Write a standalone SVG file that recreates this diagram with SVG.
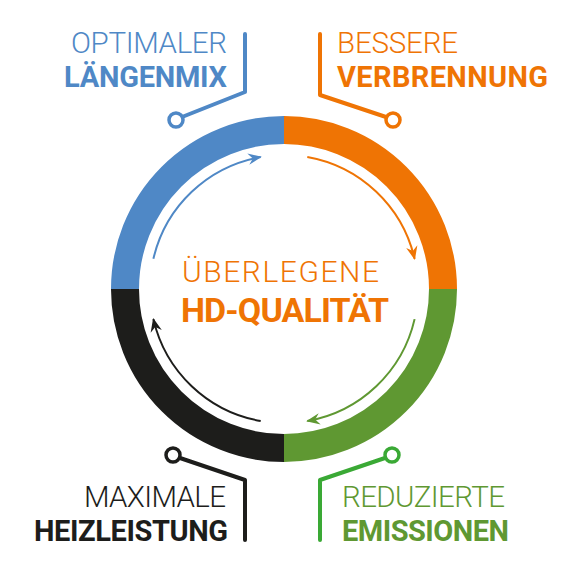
<svg xmlns="http://www.w3.org/2000/svg" width="576" height="576" viewBox="0 0 576 576">
<style>
.t{font-family:Roboto,"Liberation Sans",sans-serif;font-size:29px}
.l{font-weight:300;font-size:29.5px}
.b{font-weight:700}
.ring{fill:none;stroke-width:28}
.arr{fill:none;stroke-width:2}
.con{fill:none;stroke-width:4;stroke-linecap:round;stroke-linejoin:round}
.dot{fill:#fff;stroke-width:3.5}
</style>
<defs>
<marker id="mb" markerUnits="userSpaceOnUse" markerWidth="16" markerHeight="16" refX="0" refY="0" viewBox="-12 -6 14 12" orient="auto"><path d="M1,0 L-11,-5 L-7,0 L-11,5 Z" fill="#4f88c6"/></marker>
<marker id="mo" markerUnits="userSpaceOnUse" markerWidth="16" markerHeight="16" refX="0" refY="0" viewBox="-12 -6 14 12" orient="auto"><path d="M1,0 L-11,-5 L-7,0 L-11,5 Z" fill="#ef7404"/></marker>
<marker id="mg" markerUnits="userSpaceOnUse" markerWidth="16" markerHeight="16" refX="0" refY="0" viewBox="-12 -6 14 12" orient="auto"><path d="M1,0 L-11,-5 L-7,0 L-11,5 Z" fill="#5f9832"/></marker>
<marker id="mk" markerUnits="userSpaceOnUse" markerWidth="16" markerHeight="16" refX="0" refY="0" viewBox="-12 -6 14 12" orient="auto"><path d="M1,0 L-11,-5 L-7,0 L-11,5 Z" fill="#1d1d1b"/></marker>
</defs>
<g id="ring">
<path class="ring" stroke="#4f88c6" d="M125,289 A159,159 0 0 1 284,130"/>
<path class="ring" stroke="#ef7404" d="M284,130 A159,159 0 0 1 443,289"/>
<path class="ring" stroke="#5f9832" d="M443,289 A159,159 0 0 1 284,448"/>
<path class="ring" stroke="#1d1d1b" d="M284,448 A159,159 0 0 1 125,289"/>
</g>
<g id="connectors">
<path class="arr" stroke="#4f88c6" marker-end="url(#mb)" d="M153.4,258.8 A134,134 0 0 1 260.7,157"/>
<path class="arr" stroke="#ef7404" marker-end="url(#mo)" d="M307.3,157 A134,134 0 0 1 414.6,258.9"/>
<path class="arr" stroke="#5f9832" marker-end="url(#mg)" d="M414.6,319.1 A134,134 0 0 1 307.3,421"/>
<path class="arr" stroke="#1d1d1b" marker-end="url(#mk)" d="M260.7,421 A134,134 0 0 1 153.4,319.1"/>
<path class="con" stroke="#4f88c6" d="M245,34 V92 L182,117"/>
<path class="con" stroke="#ef7404" d="M320,34 V95 L386,117"/>
<path class="con" stroke="#1d1d1b" d="M245,540 V480 L180,458"/>
<path class="con" stroke="#3aa935" d="M320,540 V480 L385,458"/>
<circle class="dot" stroke="#4f88c6" cx="176" cy="120" r="7"/>
<circle class="dot" stroke="#ef7404" cx="393" cy="120" r="7"/>
<circle class="dot" stroke="#1d1d1b" cx="173" cy="455" r="7"/>
<circle class="dot" stroke="#3aa935" cx="392" cy="455" r="7"/>
</g>
<g id="optimal">
<text class="t l" x="71" y="53" textLength="156" lengthAdjust="spacing" fill="#4f88c6">OPTIMALER</text>
<text class="t b" x="64" y="87" textLength="163" lengthAdjust="spacing" fill="#4f88c6">LÄNGENMIX</text>
</g>
<g id="besser">
<text class="t l" x="337" y="53" textLength="121" lengthAdjust="spacing" fill="#ef7404">BESSERE</text>
<text class="t b" x="337" y="87" textLength="211" lengthAdjust="spacing" fill="#ef7404">VERBRENNUNG</text>
</g>
<g id="maximal">
<text class="t l" x="84" y="507" textLength="142" lengthAdjust="spacing" fill="#1d1d1b">MAXIMALE</text>
<text class="t b" x="34" y="541" textLength="194" lengthAdjust="spacing" fill="#1d1d1b">HEIZLEISTUNG</text>
</g>
<g id="reduziert">
<text class="t l" x="342" y="507" textLength="163" lengthAdjust="spacing" fill="#5f9832">REDUZIERTE</text>
<text class="t b" x="342" y="541" textLength="167" lengthAdjust="spacing" fill="#5f9832">EMISSIONEN</text>
</g>
<g id="center">
<text class="t l" x="182" y="282" textLength="197" lengthAdjust="spacing" fill="#ef7404" style="font-size:30px">ÜBERLEGENE</text>
<text class="t b" x="181" y="322" textLength="208" lengthAdjust="spacing" fill="#ef7404" style="font-size:34px">HD-QUALITÄT</text>
</g>
</svg>
